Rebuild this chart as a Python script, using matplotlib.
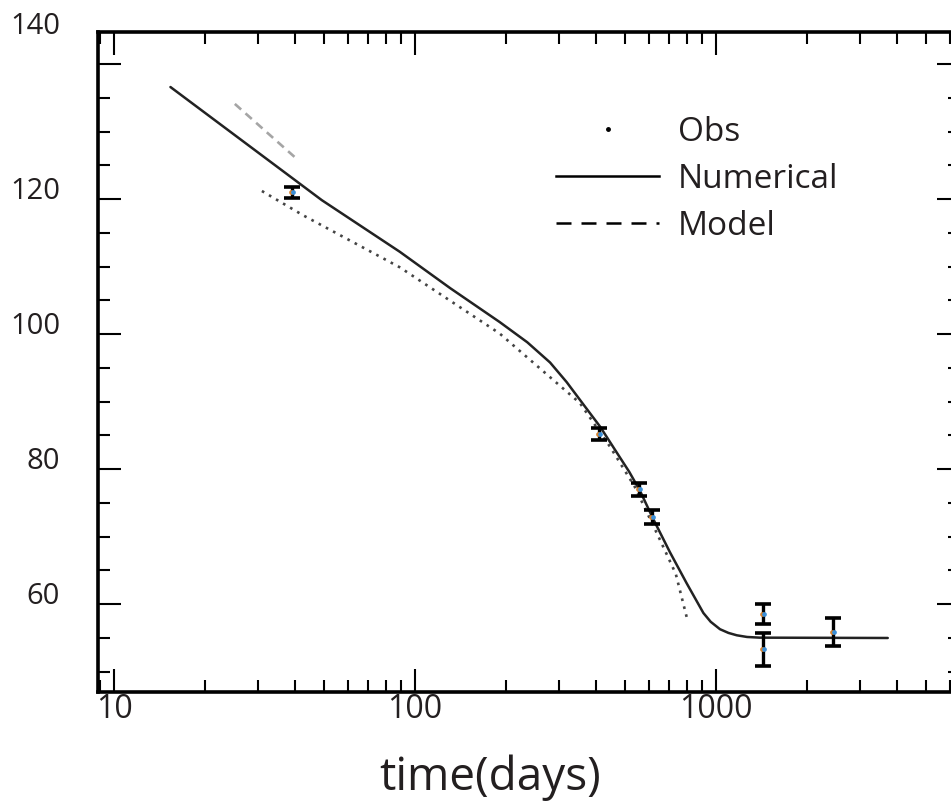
import numpy as np
import matplotlib
matplotlib.use("Agg")
import matplotlib.pyplot as plt
from matplotlib.lines import Line2D
from matplotlib.ticker import FixedLocator, NullFormatter, FixedFormatter
import matplotlib.transforms as mtransforms

# ---------------- data ----------------
obs_t = [39, 408, 555, 612, 1432, 1432, 2450]
obs_v = [121.0, 85.2, 77.0, 72.9, 58.5, 53.3, 55.9]
obs_err = [0.8, 0.9, 1.0, 1.0, 1.5, 2.45, 2.1]

num_t = [15.4, 49, 89, 131, 191, 236, 281, 319, 361, 412, 469, 515, 559,
         619, 703, 799, 908, 960, 1031, 1100, 1172, 1268, 1396, 3720]
num_v = [136.6, 119.85, 112.2, 106.8, 101.8, 98.8, 95.8, 92.9, 89.7, 86.3,
         82.4, 79.6, 76.8, 72.6, 67.7, 63.1, 58.7, 57.4, 56.3, 55.75, 55.4,
         55.15, 55.05, 55.0]

model_t = [31, 42.5, 89, 191, 353, 445, 537, 652, 735, 799]
model_v = [121.2, 117.6, 109.9, 100.1, 89.8, 83.3, 77.4, 69.5, 64.5, 58.1]

grey_t = [25.2, 39.9]
grey_v = [134.1, 126.2]

xticks_major = [10, 100, 1000]
xtick_labels = ["10", "100", "1000"]
yticks_major = [60, 80, 100, 120, 140]
ytick_labels = ["60", "80", "100", "120", "140"]
legend_labels = ["Obs", "Numerical", "Model"]
xlabel = "time(days)"

# ---------------- figure ----------------
W, H = 951, 805
fig = plt.figure(figsize=(W / 100, H / 100), dpi=100)
plt.rcParams["font.family"] = ["Open Sans", "DejaVu Sans"]

ax_l, ax_r, ax_t, ax_b = 98, 960, 32, 692
ax = fig.add_axes([ax_l / W, 1 - ax_b / H, (ax_r - ax_l) / W, (ax_b - ax_t) / H])
ax.set_xscale("log")
ax.set_xlim(10 ** 0.9468, 10 ** 3.8106)
ax.set_ylim(47.0, 144.75)

for s in ax.spines.values():
    s.set_linewidth(2.6)
    s.set_color("black")

# curves
ax.plot(num_t, num_v, color="#222222", lw=1.8, solid_capstyle="round",
        solid_joinstyle="round", zorder=3)
ax.plot(model_t, model_v, color="#444444", lw=1.9, linestyle=(0, (1, 2.1)), zorder=3)
ax.plot(grey_t, grey_v, color="#a5a5a5", lw=1.9, linestyle=(0, (3.2, 2.2)), zorder=3)

# observations with error bars
ax.errorbar(obs_t, obs_v, yerr=obs_err, fmt="none", ecolor="black",
            elinewidth=2.4, capsize=6, capthick=2.6, zorder=4)
off_l = mtransforms.offset_copy(ax.transData, fig=fig, x=-1.2, y=0, units="dots")
off_r = mtransforms.offset_copy(ax.transData, fig=fig, x=1.2, y=0, units="dots")
ax.plot(obs_t, obs_v, "o", color="#d9822b", ms=3.4, mew=0, transform=off_l, zorder=5)
ax.plot(obs_t, obs_v, "o", color="#3b8fd8", ms=3.4, mew=0, transform=off_r, zorder=5)

# ticks
ax.xaxis.set_major_locator(FixedLocator(xticks_major))
ax.xaxis.set_major_formatter(FixedFormatter(xtick_labels))
minor_x = [m * d for d in (1, 10, 100, 1000) for m in range(2, 10)]
ax.xaxis.set_minor_locator(FixedLocator(minor_x))
ax.xaxis.set_minor_formatter(NullFormatter())
ax.yaxis.set_major_locator(FixedLocator(yticks_major))
ax.yaxis.set_minor_locator(FixedLocator(list(range(50, 145, 5))))
ax.yaxis.set_major_formatter(NullFormatter())
ax.yaxis.set_minor_formatter(NullFormatter())

ax.tick_params(which="both", direction="in", top=True, right=True, color="black")
ax.tick_params(which="major", length=16.5, width=1.5)
ax.tick_params(which="minor", length=8.6, width=1.5)
ax.tick_params(axis="x", which="major", labelsize=23, pad=1, labelcolor="#231f20")

# y labels (offset upward as in the reference)
for v, lab in zip(yticks_major, ytick_labels):
    dy = 27.4 if v == 140 else 5.8
    ax.annotate(lab, xy=(0, v), xycoords=("axes fraction", "data"),
                xytext=(-27.4, dy), textcoords="offset points",
                ha="right", va="center", fontsize=21, color="#231f20",
                annotation_clip=False)

# x label
fig.text(490 / W, 1 - 790 / H, xlabel, ha="center", va="baseline",
         fontsize=33, color="#231f20")

# legend
handles = [
    Line2D([], [], marker="o", ls="none", color="black", ms=2.5),
    Line2D([], [], color="black", lw=1.8),
    Line2D([], [], color="black", lw=1.8, linestyle=(0, (6, 4))),
]
ax.legend(handles, legend_labels, loc="upper left",
          bbox_to_anchor=(556 / W, 1 - 116 / H), bbox_transform=fig.transFigure,
          frameon=False, borderpad=0, borderaxespad=0, fontsize=24,
          handlelength=3.1, handletextpad=0.55, labelspacing=0.42,
          labelcolor="#231f20")

fig.savefig("out.png", dpi=100, facecolor="white")
